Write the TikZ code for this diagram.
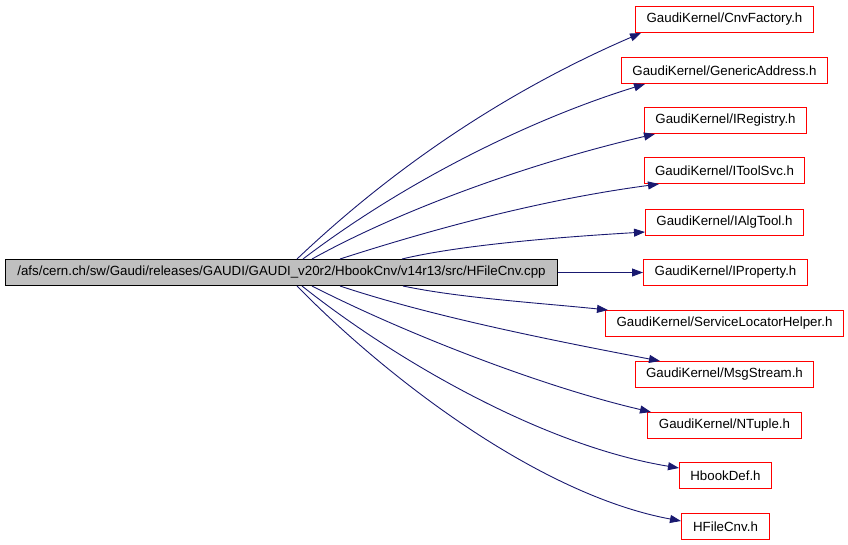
\documentclass[tikz,border=0pt]{standalone}
\usepackage{fontspec}
\setmainfont{Liberation Sans}
\usetikzlibrary{arrows.meta}
\definecolor{edgeblue}{HTML}{191970}
\definecolor{mainfill}{HTML}{BFBFBF}
\definecolor{boxred}{HTML}{FF0000}
\tikzset{
  hdr/.style={draw=boxred, line width=1pt, inner sep=0pt, minimum height=26pt, font=\fontsize{13.3}{15}\selectfont},
  mainbox/.style={draw=black, fill=mainfill, line width=1pt, inner sep=0pt, minimum height=26pt, minimum width=552pt, font=\fontsize{13.3}{15}\selectfont},
  dep/.style={draw=edgeblue, line width=0.9pt, -{Triangle[length=11pt,width=8pt]}}
}
\begin{document}
\begin{tikzpicture}[x=1pt,y=-1pt]
\useasboundingbox (0,0) rectangle (848,544);
\node[mainbox] (main) at (281.5,272.5) {/afs/cern.ch/sw/Gaudi/releases/GAUDI/GAUDI\_v20r2/HbookCnv/v14r13/src/HFileCnv.cpp};
\node[hdr, minimum width=178pt] (cnv) at (724.5,19.5) {GaudiKernel/CnvFactory.h};
\node[hdr, minimum width=206pt] (gen) at (724.5,70.5) {GaudiKernel/GenericAddress.h};
\node[hdr, minimum width=162pt] (reg) at (725.5,120.5) {GaudiKernel/IRegistry.h};
\node[hdr, minimum width=160pt] (tool) at (724.5,170.5) {GaudiKernel/IToolSvc.h};
\node[hdr, minimum width=158pt] (alg) at (724.5,222.5) {GaudiKernel/IAlgTool.h};
\node[hdr, minimum width=164pt] (prop) at (725.5,272.5) {GaudiKernel/IProperty.h};
\node[hdr, minimum width=238pt] (slh) at (724.5,323.5) {GaudiKernel/ServiceLocatorHelper.h};
\node[hdr, minimum width=178pt] (msg) at (724.5,374.5) {GaudiKernel/MsgStream.h};
\node[hdr, minimum width=154pt] (ntup) at (724.5,425.5) {GaudiKernel/NTuple.h};
\node[hdr, minimum width=92pt] (hbd) at (725.5,475.5) {HbookDef.h};
\node[hdr, minimum width=88pt] (hfc) at (725.5,526.5) {HFileCnv.h};

\draw[dep] ([xshift=292pt]main.north west) .. controls +(100,-95) and +(-130,56) .. ([xshift=6pt]cnv.south west);
\draw[dep] ([xshift=298pt]main.north west) .. controls +(97,-74) and +(-120,37) .. ([xshift=24pt]gen.south west);
\draw[dep] ([xshift=307pt]main.north west) .. controls +(88,-49) and +(-125,29) .. ([xshift=11pt]reg.south west);
\draw[dep] ([xshift=335pt]main.north west) .. controls +(90,-29) and +(-120,16) .. ([xshift=15pt]tool.south west);
\draw[dep] ([xshift=397pt]main.north west) .. controls +(58,-14) and +(-85,5) .. ([yshift=4pt]alg.south west);
\draw[dep] (main.east) -- (prop.west);
\draw[dep] ([xshift=398pt]main.south west) .. controls +(57,12) and +(-68,-7) .. ([xshift=3pt]slh.north west);
\draw[dep] ([xshift=335pt]main.south west) .. controls +(90,30) and +(-110,-21) .. ([xshift=25pt]msg.north west);
\draw[dep] ([xshift=307pt]main.south west) .. controls +(88,45) and +(-112,-26) .. ([xshift=4pt]ntup.north west);
\draw[dep] ([xshift=297pt]main.south west) .. controls +(88,70) and +(-140,-23) .. ([yshift=-6pt]hbd.north west);
\draw[dep] ([xshift=292pt]main.south west) .. controls +(93,95) and +(-140,-26) .. ([yshift=-8pt]hfc.north west);
\end{tikzpicture}
\end{document}
